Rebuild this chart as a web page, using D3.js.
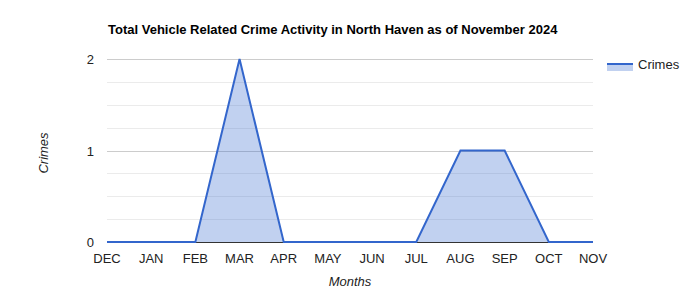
<!DOCTYPE html>
<html>
<head>
<meta charset="utf-8">
<script src="https://cdn.jsdelivr.net/npm/d3@7"></script>
<style>
  body { margin: 0; background: #fff; }
  svg { display: block; font-family: Arial, "Liberation Sans", sans-serif; }
</style>
</head>
<body>
<svg id="chart" width="700" height="300"></svg>
<script>
var months = ['DEC', 'JAN', 'FEB', 'MAR', 'APR', 'MAY', 'JUN', 'JUL', 'AUG', 'SEP', 'OCT', 'NOV'];
var crimes = [0, 0, 0, 2, 0, 0, 0, 0, 1, 1, 0, 0];
var yTicks = [0, 1, 2];
var minorTicks = [0.25, 0.5, 0.75, 1.25, 1.5, 1.75];

var svg = d3.select('#chart');
var color = '#3366cc';

var x = d3.scalePoint().domain(months).range([107, 593]);
var y = d3.scaleLinear().domain([0, 2]).range([242, 59]);

var rows = months.map(function (m, i) {
  return { month: m, value: crimes[i] };
});

// gridlines
svg.append('g').selectAll('line.minor')
  .data(minorTicks)
  .enter().append('line')
  .attr('x1', 107).attr('x2', 593)
  .attr('y1', function (d) { return Math.round(y(d)) + 0.5; })
  .attr('y2', function (d) { return Math.round(y(d)) + 0.5; })
  .attr('stroke', '#ebebeb');

svg.append('g').selectAll('line.major')
  .data(yTicks)
  .enter().append('line')
  .attr('x1', 107).attr('x2', 593)
  .attr('y1', function (d) { return Math.round(y(d)) + 0.5; })
  .attr('y2', function (d) { return Math.round(y(d)) + 0.5; })
  .attr('stroke', function (d) { return d === 0 ? '#333' : '#cccccc'; });

// area + line
var area = d3.area()
  .x(function (d) { return x(d.month); })
  .y0(y(0))
  .y1(function (d) { return y(d.value); });

var line = d3.line()
  .x(function (d) { return x(d.month); })
  .y(function (d) { return y(d.value); });

svg.append('path')
  .datum(rows)
  .attr('d', area)
  .attr('fill', color)
  .attr('fill-opacity', 0.3);

svg.append('path')
  .datum(rows)
  .attr('d', line)
  .attr('fill', 'none')
  .attr('stroke', color)
  .attr('stroke-width', 2);

// y labels
svg.append('g').selectAll('text')
  .data(yTicks)
  .enter().append('text')
  .attr('x', 94)
  .attr('y', function (d) { return y(d) + 5; })
  .attr('text-anchor', 'end')
  .attr('font-size', 13)
  .attr('fill', '#222')
  .text(function (d) { return d; });

// x labels
svg.append('g').selectAll('text')
  .data(months)
  .enter().append('text')
  .attr('x', function (d) { return x(d); })
  .attr('y', 263)
  .attr('text-anchor', 'middle')
  .attr('font-size', 13)
  .attr('fill', '#222')
  .text(function (d) { return d; });

// title
svg.append('text')
  .attr('x', 108)
  .attr('y', 34)
  .attr('font-size', 13)
  .attr('font-weight', 'bold')
  .attr('fill', '#000')
  .text('Total Vehicle Related Crime Activity in North Haven as of November 2024');

// axis titles
svg.append('text')
  .attr('x', 350)
  .attr('y', 286)
  .attr('text-anchor', 'middle')
  .attr('font-size', 13)
  .attr('font-style', 'italic')
  .attr('fill', '#222')
  .text('Months');

svg.append('text')
  .attr('transform', 'translate(48,153) rotate(-90)')
  .attr('text-anchor', 'middle')
  .attr('font-size', 13)
  .attr('font-style', 'italic')
  .attr('fill', '#222')
  .text('Crimes');

// legend
var legend = svg.append('g');
legend.append('rect')
  .attr('x', 607).attr('y', 64)
  .attr('width', 26).attr('height', 7)
  .attr('fill', color)
  .attr('fill-opacity', 0.3);
legend.append('line')
  .attr('x1', 607).attr('x2', 633)
  .attr('y1', 64).attr('y2', 64)
  .attr('stroke', color)
  .attr('stroke-width', 2);
legend.append('text')
  .attr('x', 638)
  .attr('y', 69)
  .attr('font-size', 13)
  .attr('fill', '#222')
  .text('Crimes');
</script>
</body>
</html>
